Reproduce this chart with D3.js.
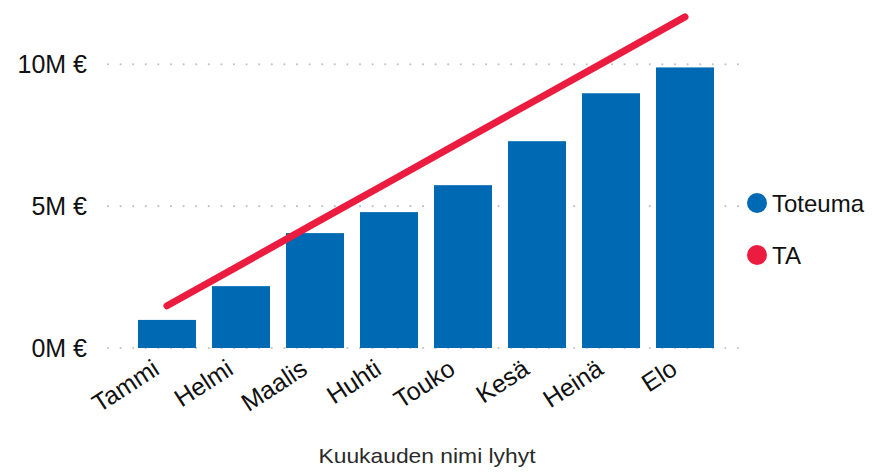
<!DOCTYPE html>
<html>
<head>
<meta charset="utf-8">
<script src="https://cdn.jsdelivr.net/npm/d3@7"></script>
<style>
  body { margin: 0; background: #fff; }
  text { font-family: "Liberation Sans", Arial, sans-serif; }
</style>
</head>
<body>
<svg id="chart" width="873" height="473"></svg>
<script>
// months (short Finnish names)
const months = ["Tammi", "Helmi", "Maalis", "Huhti", "Touko", "Kesä", "Heinä", "Elo"];
// actuals (Toteuma), euros
const toteuma = [0.99e6, 2.18e6, 4.05e6, 4.79e6, 5.74e6, 7.29e6, 8.98e6, 9.89e6];
// budget (TA), euros
const ta = [1.49e6, 2.94e6, 4.40e6, 5.85e6, 7.31e6, 8.76e6, 10.21e6, 11.67e6];
const yTicks = [0, 5e6, 10e6];

const blue = "#0069B4", red = "#EB1C3F";

const svg = d3.select("#chart");

const x = d3.scaleBand().domain(months).range([130, 722]).paddingInner(0.216).paddingOuter(0.108);
const y = d3.scaleLinear().domain([0, 10e6]).range([348, 64.3]);

// gridlines (dotted)
svg.append("g").selectAll("line")
  .data(yTicks)
  .join("line")
  .attr("x1", 108).attr("x2", 742)
  .attr("y1", d => y(d)).attr("y2", d => y(d))
  .attr("stroke", "#c4c4c4")
  .attr("stroke-width", 2.2)
  .attr("stroke-linecap", "round")
  .attr("stroke-dasharray", "0,12.6");

// y labels
svg.append("g").selectAll("text")
  .data(yTicks)
  .join("text")
  .attr("x", 87)
  .attr("y", d => y(d))
  .attr("dy", "0.36em")
  .attr("text-anchor", "end")
  .attr("font-size", 25)
  .attr("fill", "#111")
  .text(d => (d / 1e6) + "M €");

// bars
svg.append("g").selectAll("rect")
  .data(toteuma)
  .join("rect")
  .attr("x", (d, i) => x(months[i]))
  .attr("width", x.bandwidth())
  .attr("y", d => y(d))
  .attr("height", d => y(0) - y(d))
  .attr("fill", blue);

// TA line
const line = d3.line()
  .x((d, i) => x(months[i]) + x.bandwidth() / 2)
  .y(d => y(d));
svg.append("path")
  .datum(ta)
  .attr("d", line)
  .attr("fill", "none")
  .attr("stroke", red)
  .attr("stroke-width", 7)
  .attr("stroke-linecap", "round")
  .attr("stroke-linejoin", "round");

// x labels, rotated
svg.append("g").selectAll("text")
  .data(months)
  .join("text")
  .attr("transform", d => `translate(${x(d) + x.bandwidth() / 2 - 6},${373}) rotate(-33)`)
  .attr("text-anchor", "end")
  .attr("font-size", 25)
  .attr("fill", "#111")
  .text(d => d);

// x axis title
svg.append("text")
  .attr("x", 427).attr("y", 463)
  .attr("text-anchor", "middle")
  .attr("font-family", "'DejaVu Sans Condensed', 'DejaVu Sans', sans-serif")
  .attr("font-size", 21)
  .attr("fill", "#2a2a2a")
  .attr("textLength", 217)
  .attr("lengthAdjust", "spacingAndGlyphs")
  .text("Kuukauden nimi lyhyt");

// legend
const legend = [["Toteuma", blue], ["TA", red]];
const lg = svg.append("g").selectAll("g")
  .data(legend)
  .join("g")
  .attr("transform", (d, i) => `translate(757,${203 + i * 52})`);
lg.append("circle").attr("r", 10).attr("fill", d => d[1]);
lg.append("text")
  .attr("x", 15).attr("dy", "0.36em")
  .attr("font-size", 24)
  .attr("fill", "#111")
  .text(d => d[0]);
</script>
</body>
</html>
